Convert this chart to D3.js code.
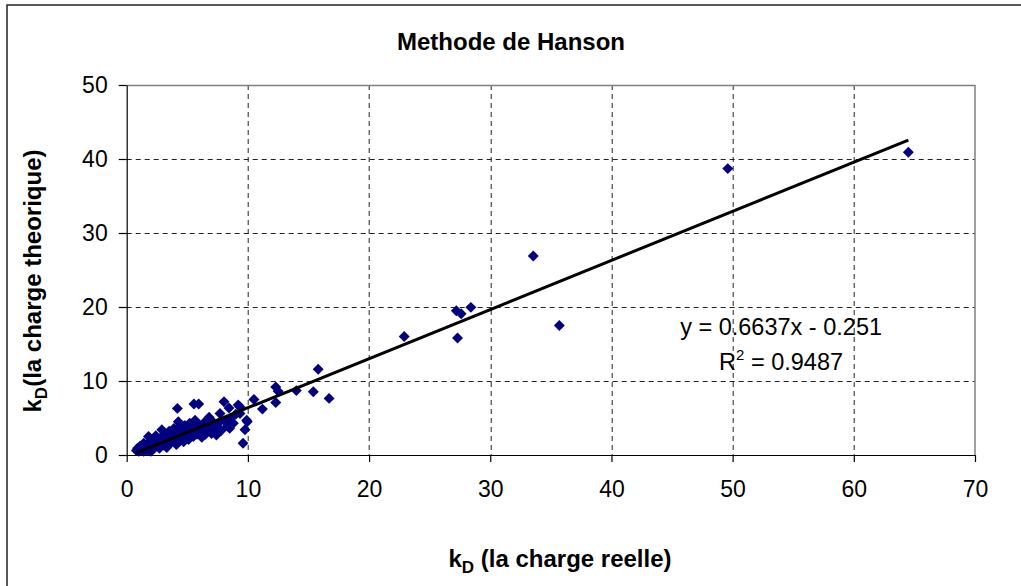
<!DOCTYPE html>
<html>
<head>
<meta charset="utf-8">
<script src="https://d3js.org/d3.v7.min.js"></script>
<style>
  body { margin: 0; background: #fff; }
  text { font-family: "Liberation Sans", Arial, sans-serif; fill: #000; }
</style>
</head>
<body>
<svg width="1021" height="586"></svg>
<script>
// kD reelle (x) and kD theorique (y)
const kdReelle = [
  0.8, 0.9, 1.0, 1.1, 1.2, 1.3, 1.4, 1.4, 1.5, 1.6, 1.7, 1.8, 1.8, 1.9, 2.0, 2.0, 2.1, 2.2, 2.3, 2.4,
  2.5, 2.6, 2.7, 2.8, 2.9, 2.9, 3.0, 3.1, 3.2, 3.3, 3.4, 3.5, 3.6, 3.7, 3.8, 3.9, 4.0, 4.1, 4.18, 4.2,
  4.26, 4.3, 4.4, 4.5, 4.6, 4.7, 4.8, 4.9, 4.95, 5.0, 5.1, 5.2, 5.3, 5.4, 5.5, 5.55, 5.64, 5.7, 5.8, 5.94,
  6.0, 6.1, 6.2, 6.3, 6.4, 6.5, 6.6, 6.8, 6.9, 7.0, 7.1, 7.3, 7.4, 7.5, 7.7, 7.8, 8.03, 8.1, 8.3, 8.44,
  8.5, 8.6, 8.8, 9.0, 9.2, 9.35, 9.35, 9.6, 9.76, 9.9, 9.95,
  10.5, 11.2, 12.3, 12.5, 12.3, 14.0, 15.4, 15.8, 16.7, 22.9, 27.2, 27.6, 28.4, 27.3, 33.55, 35.7, 49.6, 64.5
];
const kdTheorique = [
  0.6, 0.9, 0.5, 1.2, 0.7, 1.0, 0.5, 1.6, 0.9, 1.3, 0.6, 2.5, 1.7, 1.0, 0.5, 2.0, 1.4, 0.8, 1.8, 2.6,
  1.2, 2.1, 0.9, 1.6, 3.4, 2.4, 1.3, 2.8, 1.9, 1.0, 2.3, 3.2, 1.6, 2.7, 1.9, 3.6, 2.3, 1.4, 6.3, 3.0,
  4.5, 2.0, 3.8, 2.6, 3.3, 1.8, 4.0, 2.9, 2.5, 3.5, 2.1, 4.3, 3.0, 3.9, 2.5, 6.9, 4.7, 3.4, 2.8, 6.9,
  4.1, 3.1, 2.4, 3.7, 4.4, 2.8, 3.4, 5.1, 3.9, 2.9, 4.5, 3.5, 2.7, 4.2, 5.6, 3.3, 7.2, 4.6, 3.9, 6.35,
  3.6, 5.0, 4.3, 5.5, 6.75, 5.6, 6.5, 1.6, 3.4, 4.7, 4.5,
  7.5, 6.2, 9.2, 8.6, 7.1, 8.7, 8.55, 11.6, 7.65, 16.0, 19.5, 19.1, 19.95, 15.8, 26.9, 17.5, 38.7, 40.9
];
const xTicks = [0, 10, 20, 30, 40, 50, 60, 70];
const yTicks = [0, 10, 20, 30, 40, 50];
const slope = 0.6637, intercept = -0.251;

const svg = d3.select("svg");
const plotLeft = 126.7, plotTop = 85, width = 848.3, height = 370;

// outer chart frame (only left & top visible)
svg.append("rect").attr("x", 7).attr("y", 5).attr("width", 1100).attr("height", 700)
  .attr("fill", "none").attr("stroke", "#222").attr("stroke-width", 1.5);

const x = d3.scaleLinear().domain([0, 70]).range([0, width]);
const y = d3.scaleLinear().domain([0, 50]).range([height, 0]);

const g = svg.append("g").attr("transform", `translate(${plotLeft},${plotTop})`);

// grid lines
g.append("g").selectAll("line").data(xTicks.slice(1, -1)).join("line")
  .attr("x1", d => Math.round(x(d)) + 0.5).attr("x2", d => Math.round(x(d)) + 0.5)
  .attr("y1", 0).attr("y2", height)
  .attr("stroke", "#222").attr("stroke-dasharray", "5,4");
g.append("g").selectAll("line").data(yTicks.slice(1, -1)).join("line")
  .attr("y1", d => Math.round(y(d)) + 0.5).attr("y2", d => Math.round(y(d)) + 0.5)
  .attr("x1", 0).attr("x2", width)
  .attr("stroke", "#222").attr("stroke-dasharray", "5,4");

// plot area border top/right
g.append("path").attr("d", `M0,0.5H${width}V${height}`)
  .attr("fill", "none").attr("stroke", "#808080").attr("stroke-width", 1.5);

// axes
const xAxis = g.append("g").attr("transform", `translate(0,${height})`)
  .call(d3.axisBottom(x).tickValues(xTicks).tickSize(7).tickSizeOuter(0).tickPadding(19));
const yAxis = g.append("g")
  .call(d3.axisLeft(y).tickValues(yTicks).tickSize(8).tickSizeOuter(0).tickPadding(11));
[xAxis, yAxis].forEach(a => {
  a.selectAll("path, line").attr("stroke", "#000").attr("stroke-width", 1.2);
  a.selectAll("text").attr("font-size", 23).attr("font-family", "Liberation Sans, Arial, sans-serif");
});

// points
const pts = kdReelle.map((v, i) => [v, kdTheorique[i]]);
g.append("g").selectAll("path").data(pts).join("path")
  .attr("d", d3.symbol(d3.symbolSquare, 60))
  .attr("transform", d => `translate(${x(d[0])},${y(d[1])}) rotate(45)`)
  .attr("fill", "#000080");

// trend line
const xMin = d3.min(kdReelle), xMax = d3.max(kdReelle);
g.append("line")
  .attr("x1", x(xMin)).attr("y1", y(slope * xMin + intercept))
  .attr("x2", x(xMax)).attr("y2", y(slope * xMax + intercept))
  .attr("stroke", "#000").attr("stroke-width", 3);

// equation
g.append("text").attr("x", x(54.0)).attr("y", y(16.2)).attr("text-anchor", "middle")
  .attr("font-size", 23.5).text("y = 0.6637x - 0.251");
const r2 = g.append("text").attr("x", x(54.0)).attr("y", y(11.5)).attr("text-anchor", "middle")
  .attr("font-size", 23.5);
r2.append("tspan").text("R");
r2.append("tspan").attr("dy", -10).attr("font-size", 15).text("2");
r2.append("tspan").attr("dy", 10).text(" = 0.9487");

// title
svg.append("text").attr("x", 511).attr("y", 50).attr("text-anchor", "middle")
  .attr("font-size", 24).attr("font-weight", "bold").text("Methode de Hanson");

// x label
const xl = svg.append("text").attr("x", 560).attr("y", 567).attr("text-anchor", "middle")
  .attr("font-size", 24).attr("font-weight", "bold");
xl.append("tspan").text("k");
xl.append("tspan").attr("dy", 6).attr("font-size", 17).text("D");
xl.append("tspan").attr("dy", -6).text(" (la charge reelle)");

// y label
const yl = svg.append("text").attr("transform", "translate(41,281) rotate(-90)")
  .attr("text-anchor", "middle").attr("font-size", 24).attr("font-weight", "bold");
yl.append("tspan").text("k");
yl.append("tspan").attr("dy", 6).attr("font-size", 17).text("D");
yl.append("tspan").attr("dy", -6).text("(la charge theorique)");
</script>
</body>
</html>
